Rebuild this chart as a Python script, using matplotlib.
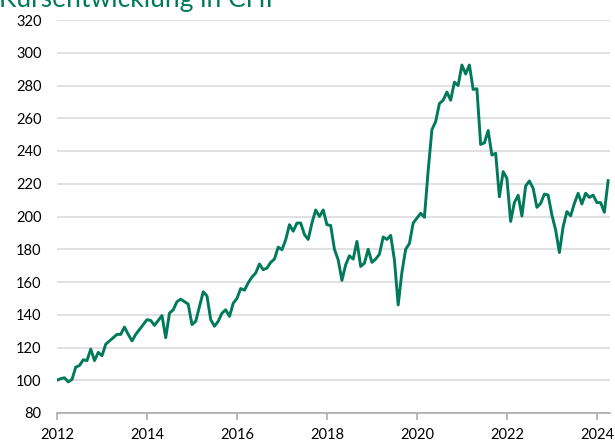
import matplotlib
matplotlib.use("Agg")
import matplotlib.pyplot as plt
import numpy as np

plt.rcParams['font.family'] = ['Lato', 'DejaVu Sans']

title = "Kursentwicklung in CHF"
start_year = 2012
# monthly values, Jan 2012 .. Apr 2024
values = [
    100, 101, 101.5, 99, 100.5, 108, 109, 112.5, 112, 119, 112, 117,
    115, 122, 124, 126, 128, 128, 132.5, 128, 124, 128, 131, 134,
    137, 136.5, 133.5, 136.5, 139.5, 126, 141, 143, 148, 149.5, 148, 146.5,
    134, 136, 145, 154, 151.5, 137, 133, 136, 141, 143, 139, 147,
    150, 156, 155, 159.5, 163, 165.5, 171, 167.5, 168.5, 172, 174, 181.3,
    179.7, 185.8, 195, 191, 196, 196, 189, 186, 196, 204, 200, 204,
    195, 194.5, 180, 173.5, 161, 170.5, 176, 174, 184.8, 169.5, 171.5, 180,
    172, 174, 177, 187.5, 186, 188.5, 173.5, 146, 166, 180, 183.5, 196,
    199, 202, 199.5, 228, 253, 258, 269, 271, 276, 271, 282, 280,
    292.5, 287, 292.5, 277.6, 278, 244, 245, 252.5, 237.5, 238.6, 212, 227.4,
    223.3, 197, 208.5, 213, 200.3, 218.6, 221.7, 217.2, 205.6, 208, 213.7, 213.1,
    200.9, 191.8, 178, 193.8, 203, 200.4, 208, 214.2, 207.7, 214.2, 211.7, 213,
    208.5, 208.5, 202.6, 221.9,
]
x_ticks = [2012, 2014, 2016, 2018, 2020, 2022, 2024]
y_ticks = [80, 100, 120, 140, 160, 180, 200, 220, 240, 260, 280, 300, 320]

green = "#007A5A"

t = start_year + np.arange(len(values)) / 12.0

fig = plt.figure(figsize=(6.15, 4.43), dpi=100)
ax = fig.add_axes([57/615, (443-413)/443, (610-57)/615, (413-20)/443])

ax.plot(t, values, color=green, linewidth=2.1, solid_joinstyle='round', zorder=3)

ax.set_ylim(80, 320)
ax.set_xlim(2012, 2024 + 3.5/12)
ax.set_yticks(y_ticks)
ax.set_xticks(x_ticks)
ax.set_xticklabels([str(x) for x in x_ticks])
ax.yaxis.grid(True, color="#D9D9D9", linewidth=1.1)
ax.set_axisbelow(True)

for s in ['top', 'right', 'left']:
    ax.spines[s].set_visible(False)
ax.spines['bottom'].set_color("#A6A6A6")
ax.spines['bottom'].set_linewidth(1.1)
ax.tick_params(axis='y', length=0, pad=11, labelsize=10.5, labelcolor="#000000")
ax.tick_params(axis='x', length=5, width=1.1, color="#A6A6A6", pad=6, labelsize=10.5)

fig.text(-0.002, 1 - 6.5/443, title, color=green, fontsize=19, ha='left', va='baseline')

fig.savefig("out.png", dpi=100)
